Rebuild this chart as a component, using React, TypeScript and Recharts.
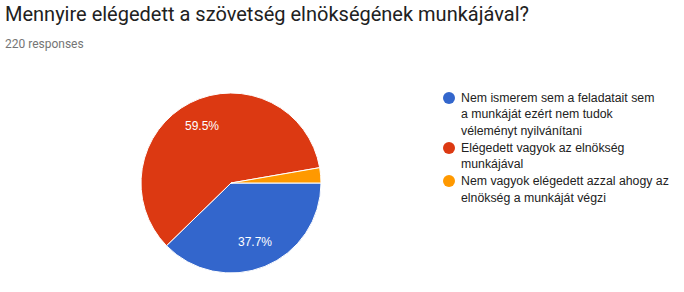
import { PieChart, Pie, Cell } from 'recharts';

const title = 'Mennyire elégedett a szövetség elnökségének munkájával?';
const subtitle = '220 responses';

// line breaks follow the wrapping of the original legend
const answers = [
  'Nem ismerem sem a feladatait sem\na munkáját ezért nem tudok\nvéleményt nyilvánítani',
  'Elégedett vagyok az elnökség\nmunkájával',
  'Nem vagyok elégedett azzal ahogy az\nelnökség a munkáját végzi',
];
const counts = [83, 131, 6];
const colors = ['#3366cc', '#dc3912', '#ff9900'];

const chartData = answers.map((name, i) => ({ name, value: counts[i] }));

const RAD = Math.PI / 180;

function renderLabel(props: any) {
  const { cx, cy, midAngle, outerRadius, percent } = props;
  if (percent < 0.05) return null;
  const r = outerRadius * 0.71;
  const x = cx + r * Math.cos(-midAngle * RAD);
  const y = cy + r * Math.sin(-midAngle * RAD);
  return (
    <text
      x={x}
      y={y}
      fill="#ffffff"
      textAnchor="middle"
      dominantBaseline="central"
      style={{ fontFamily: 'Arial, "Liberation Sans", sans-serif', fontSize: 12 }}
    >
      {`${(percent * 100).toFixed(1)}%`}
    </text>
  );
}

function ChartLegend() {
  return (
    <div
      style={{
        position: 'absolute',
        left: 443,
        top: 90,
        fontFamily: 'Arial, "Liberation Sans", sans-serif',
        fontSize: 12.3,
        color: '#222222',
      }}
    >
      {chartData.map((d, i) => (
        <div key={d.name} style={{ display: 'flex', alignItems: 'flex-start', marginBottom: 1 }}>
          <span
            style={{
              width: 12,
              height: 12,
              borderRadius: 6,
              background: colors[i],
              flex: '0 0 auto',
              marginTop: 2,
              marginRight: 6,
            }}
          />
          <span style={{ lineHeight: '16.3px', whiteSpace: 'pre-line' }}>{d.name}</span>
        </div>
      ))}
    </div>
  );
}

export default function App() {
  return (
    <div style={{ position: 'absolute', left: 0, top: 0, width: 684, height: 292, background: '#ffffff' }}>
      <PieChart
        width={684}
        height={292}
        margin={{ top: 0, right: 0, bottom: 0, left: 0 }}
        style={{ position: 'absolute', left: 0, top: 0 }}
      >
        <Pie
          data={chartData}
          dataKey="value"
          nameKey="name"
          cx={231}
          cy={183}
          outerRadius={90}
          startAngle={0}
          endAngle={-360}
          stroke="#ffffff"
          strokeWidth={1}
          label={renderLabel}
          labelLine={false}
          isAnimationActive={false}
        >
          {chartData.map((d, i) => (
            <Cell key={d.name} fill={colors[i]} />
          ))}
        </Pie>
      </PieChart>
      <div
        style={{
          position: 'absolute',
          left: 5,
          top: 1,
          fontFamily: 'Roboto, Arial, sans-serif',
          fontSize: 20,
          color: '#212121',
          lineHeight: '26px',
          whiteSpace: 'nowrap',
        }}
      >
        {title}
      </div>
      <div
        style={{
          position: 'absolute',
          left: 5,
          top: 36,
          fontFamily: 'Roboto, Arial, sans-serif',
          fontSize: 12,
          color: '#757575',
          lineHeight: '16px',
        }}
      >
        {subtitle}
      </div>
      <ChartLegend />
    </div>
  );
}
